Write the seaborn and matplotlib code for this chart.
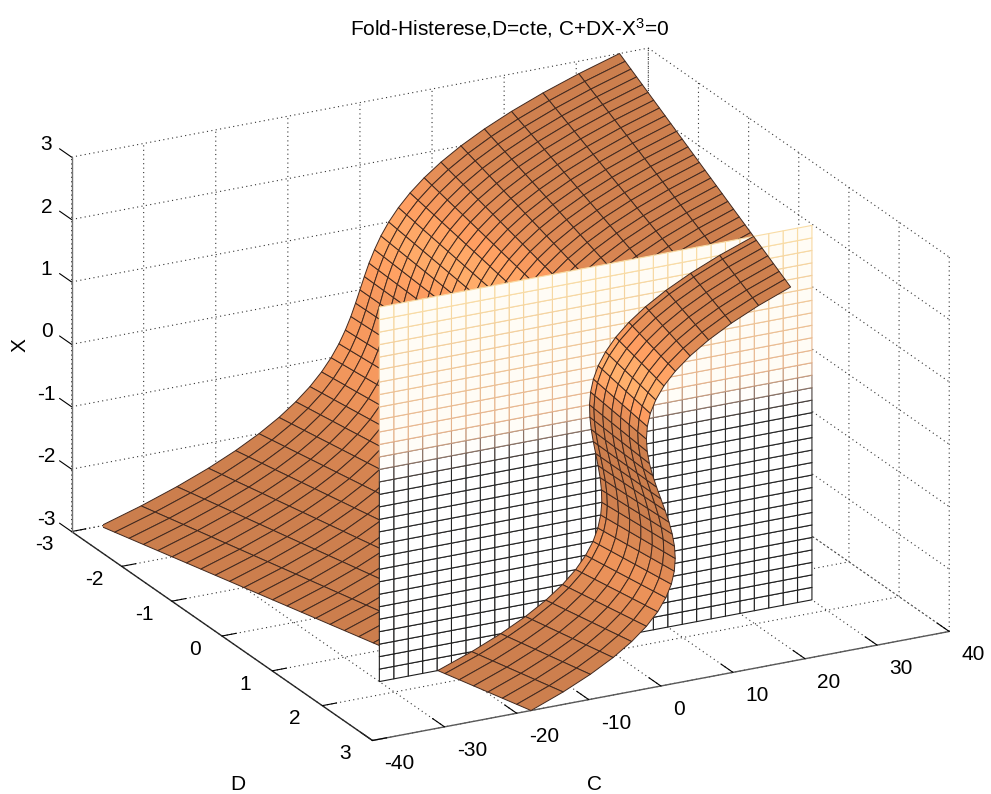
import numpy as np
import seaborn as sns
import matplotlib
matplotlib.use("Agg")
import matplotlib.pyplot as plt

# ---- data ----
TITLE = "Fold-Histerese,D=cte, C+DX-X$^{3}$=0"
D_GRID = [-3.0,-2.8,-2.6,-2.4,-2.2,-2.0,-1.8,-1.6,-1.4,-1.2,-1.0,-0.8,-0.6,-0.4,-0.2,0.0,
          0.2,0.4,0.6,0.8,1.0,1.2,1.4,1.6,1.8,2.0,2.2,2.4,2.6,2.8,3.0]
X_GRID = [-3.0,-2.8,-2.6,-2.4,-2.2,-2.0,-1.8,-1.6,-1.4,-1.2,-1.0,-0.8,-0.6,-0.4,-0.2,0.0,
          0.2,0.4,0.6,0.8,1.0,1.2,1.4,1.6,1.8,2.0,2.2,2.4,2.6,2.8,3.0]
# C on the surface for X = 0, 0.2 ... 3 (rows) and every D of D_GRID (columns)
C_X00 = [0]*31
C_X02 = [.61,.57,.53,.49,.45,.41,.37,.33,.29,.25,.21,.17,.13,.09,.05,.01,-.03,-.07,-.11,-.15,-.19,-.23,-.27,-.31,-.35,-.39,-.43,-.47,-.51,-.55,-.59]
C_X04 = [1.26,1.18,1.10,1.02,.94,.86,.78,.70,.62,.54,.46,.38,.30,.22,.14,.06,-.02,-.10,-.18,-.26,-.34,-.42,-.50,-.58,-.66,-.74,-.82,-.90,-.98,-1.06,-1.14]
C_X06 = [2.02,1.90,1.78,1.66,1.54,1.42,1.30,1.18,1.06,.94,.82,.70,.58,.46,.34,.22,.10,-.02,-.14,-.26,-.38,-.50,-.62,-.74,-.86,-.98,-1.10,-1.22,-1.34,-1.46,-1.58]
C_X08 = [2.91,2.75,2.59,2.43,2.27,2.11,1.95,1.79,1.63,1.47,1.31,1.15,.99,.83,.67,.51,.35,.19,.03,-.13,-.29,-.45,-.61,-.77,-.93,-1.09,-1.25,-1.41,-1.57,-1.73,-1.89]
C_X10 = [4.0,3.8,3.6,3.4,3.2,3.0,2.8,2.6,2.4,2.2,2.0,1.8,1.6,1.4,1.2,1.0,.8,.6,.4,.2,0,-.2,-.4,-.6,-.8,-1,-1.2,-1.4,-1.6,-1.8,-2.0]
C_X12 = [5.33,5.09,4.85,4.61,4.37,4.13,3.89,3.65,3.41,3.17,2.93,2.69,2.45,2.21,1.97,1.73,1.49,1.25,1.01,.77,.53,.29,.05,-.19,-.43,-.67,-.91,-1.15,-1.39,-1.63,-1.87]
C_X14 = [6.94,6.66,6.38,6.10,5.82,5.54,5.26,4.98,4.70,4.42,4.14,3.86,3.58,3.30,3.02,2.74,2.46,2.18,1.90,1.62,1.34,1.06,.78,.50,.22,-.06,-.34,-.62,-.90,-1.18,-1.46]
C_X16 = [8.90,8.58,8.26,7.94,7.62,7.30,6.98,6.66,6.34,6.02,5.70,5.38,5.06,4.74,4.42,4.10,3.78,3.46,3.14,2.82,2.50,2.18,1.86,1.54,1.22,.90,.58,.26,-.06,-.38,-.70]
C_X18 = [11.23,10.87,10.51,10.15,9.79,9.43,9.07,8.71,8.35,7.99,7.63,7.27,6.91,6.55,6.19,5.83,5.47,5.11,4.75,4.39,4.03,3.67,3.31,2.95,2.59,2.23,1.87,1.51,1.15,.79,.43]
C_X20 = [14,13.6,13.2,12.8,12.4,12,11.6,11.2,10.8,10.4,10,9.6,9.2,8.8,8.4,8,7.6,7.2,6.8,6.4,6,5.6,5.2,4.8,4.4,4,3.6,3.2,2.8,2.4,2]
C_X22 = [17.25,16.81,16.37,15.93,15.49,15.05,14.61,14.17,13.73,13.29,12.85,12.41,11.97,11.53,11.09,10.65,10.21,9.77,9.33,8.89,8.45,8.01,7.57,7.13,6.69,6.25,5.81,5.37,4.93,4.49,4.05]
C_X24 = [21.02,20.54,20.06,19.58,19.10,18.62,18.14,17.66,17.18,16.70,16.22,15.74,15.26,14.78,14.30,13.82,13.34,12.86,12.38,11.90,11.42,10.94,10.46,9.98,9.50,9.02,8.54,8.06,7.58,7.10,6.62]
C_X26 = [25.38,24.86,24.34,23.82,23.30,22.78,22.26,21.74,21.22,20.70,20.18,19.66,19.14,18.62,18.10,17.58,17.06,16.54,16.02,15.50,14.98,14.46,13.94,13.42,12.90,12.38,11.86,11.34,10.82,10.30,9.78]
C_X28 = [30.35,29.79,29.23,28.67,28.11,27.55,26.99,26.43,25.87,25.31,24.75,24.19,23.63,23.07,22.51,21.95,21.39,20.83,20.27,19.71,19.15,18.59,18.03,17.47,16.91,16.35,15.79,15.23,14.67,14.11,13.55]
C_X30 = [36,35.4,34.8,34.2,33.6,33,32.4,31.8,31.2,30.6,30,29.4,28.8,28.2,27.6,27,26.4,25.8,25.2,24.6,24,23.4,22.8,22.2,21.6,21,20.4,19.8,19.2,18.6,18]
# the wall at constant D, and where the surface crosses it (X = 0, 0.2 ... 3)
WALL_D = 1.7
C_AT_WALL = [0,-.33,-.62,-.80,-.85,-.70,-.31,.36,1.38,2.77,4.60,6.91,9.74,13.16,17.19,21.90]
WALL_C = [-30,-28,-26,-24,-22,-20,-18,-16,-14,-12,-10,-8,-6,-4,-2,0,2,4,6,8,10,12,14,16,18,20,22,24,26,28,30]
C_TICKS = [-40,-30,-20,-10,0,10,20,30,40]
D_TICKS = [-3,-2,-1,0,1,2,3]
X_TICKS = [-3,-2,-1,0,1,2,3]

sns.set_theme(style="white")
plt.rcParams["font.family"] = ["Liberation Sans", "DejaVu Sans"]
plt.rcParams["mathtext.default"] = "regular"
plt.rcParams["axes.unicode_minus"] = False

upper = np.array([C_X00,C_X02,C_X04,C_X06,C_X08,C_X10,C_X12,C_X14,C_X16,C_X18,C_X20,C_X22,C_X24,C_X26,C_X28,C_X30], float)
C_TABLE = np.vstack([-upper[:0:-1], upper])      # lower half mirrors the upper one
wall_line = np.array(C_AT_WALL, float)
C_WALL_LINE = np.concatenate([-wall_line[:0:-1], wall_line])
DD, XX = np.meshgrid(np.array(D_GRID), np.array(X_GRID))
BOX = (651, 651, 402)
AZ, EL = -117.55, 21.24

fig = plt.figure(figsize=(9.91, 7.94), dpi=100, facecolor="white")
ax = fig.add_axes([0.0042, -0.0101, 1.0, 1.0], projection="3d", computed_zorder=False, proj_type="ortho")
ax.set_xlim(-40, 40); ax.set_ylim(3, -3); ax.set_zlim(-3, 3)
ax.set_box_aspect(BOX, zoom=1.2274)
ax.view_init(elev=EL, azim=AZ)

# lit surface colours, worked out per cell in box units
u = C_TABLE / 80 * BOX[0]; v = DD / 6 * BOX[1]; w = XX / 6 * BOX[2]
P = np.stack([u, v, w], axis=-1)
d1 = P[1:, 1:] - P[:-1, :-1]
d2 = P[:-1, 1:] - P[1:, :-1]
n = np.cross(d1, d2)
n /= np.linalg.norm(n, axis=-1, keepdims=True)
n *= np.where(n[..., 0:1] > 0, -1, 1)
L = np.array([-.81, -.33, .48]); L /= np.linalg.norm(L)
dot = np.clip((n * L).sum(-1), 0, 1)
I = 0.81 + 0.46 * dot**12
base = np.array([250, 155, 95]) / 255
FACES = np.clip(I[..., None] * base, 0, 1)
FACES = np.dstack([FACES, np.ones(FACES.shape[:2])])

split = D_GRID.index(1.8)          # first grid column in front of the wall
line_x = np.array(X_GRID)
wall_col = C_WALL_LINE[:, None]
d_col = np.full((31, 1), WALL_D)
x_col = line_x[:, None]
edge = (.26, .16, .12, 1)
ax.plot_surface(np.hstack([C_TABLE[:, :split], wall_col]), np.hstack([DD[:, :split], d_col]),
                np.hstack([XX[:, :split], x_col]), facecolors=FACES[:, :split],
                rstride=1, cstride=1, shade=False, edgecolor=edge, linewidth=.7, zorder=1)

# wall
WC, WX = np.meshgrid(np.array(WALL_C, float), np.array(X_GRID))
WD = np.full_like(WC, WALL_D)
mid = (WX[:-1, :-1] + WX[1:, 1:]) / 2
stops = [-3, .2, .5, .8, 3]
edge_rgb = np.stack([np.interp(mid, stops, [.12, .16, .55, .9, .98]),
                     np.interp(mid, stops, [.12, .16, .45, .7, .87]),
                     np.interp(mid, stops, [.12, .16, .40, .55, .65]),
                     np.ones_like(mid)], -1)
face_rgb = np.stack([np.ones_like(mid), np.interp(mid, [.3, .8], [1, .99]), np.interp(mid, [.3, .8], [1, .96]), np.ones_like(mid)], -1)
wall = ax.plot_surface(WC, WD, WX, facecolors=face_rgb, rstride=1, cstride=1, shade=False,
                       linewidth=.8, zorder=2)
wall.set_edgecolor(edge_rgb.reshape(-1, 4))

ax.plot_surface(np.hstack([wall_col, C_TABLE[:, split:]]), np.hstack([d_col, DD[:, split:]]),
                np.hstack([x_col, XX[:, split:]]), facecolors=FACES[:, split-1:],
                rstride=1, cstride=1, shade=False, edgecolor=edge, linewidth=.7, zorder=3)

# axes styling
ax.set_xticks(C_TICKS); ax.set_yticks(D_TICKS); ax.set_zticks(X_TICKS)
ax.zaxis._get_tickdir = lambda pos: 1          # X ticks run along the D direction
AX_COL = {"x": (.35, .35, .35, 1), "y": (.15, .15, .15, 1), "z": (.45, .45, .45, 1)}
TICK_OUT = {"x": .5, "y": .31, "z": .5}
for a, key in ((ax.xaxis, "x"), (ax.yaxis, "y"), (ax.zaxis, "z")):
    a.set_pane_color((1, 1, 1, 0))
    a.pane.set_edgecolor((1, 1, 1, 0))
    a._axinfo["grid"].update(color=(.2, .2, .2, 1), linewidth=.8, linestyle=(0, (1, 3)))
    a._axinfo["axisline"]["color"] = AX_COL[key]
    a._axinfo["tick"].update(inward_factor=0, outward_factor=TICK_OUT[key], color=(.3, .3, .3, 1),
                             linewidth={True: .8, False: .5})
    a.line.set_color(AX_COL[key])
    a.line.set_linewidth(1.0)
ax.grid(True)
ax.tick_params(axis="both", labelsize=15, colors="black")
ax.tick_params(axis="x", pad=4); ax.tick_params(axis="y", pad=6); ax.tick_params(axis="z", pad=0.5)
for t in ax.get_xticklabels():
    t.set_ha("left"); t.set_va("center")
for t in ax.get_yticklabels():
    t.set_va("bottom")
for t in ax.get_zticklabels():
    t.set_va("bottom")

def px(x, y):
    return x / 991, 1 - y / 794
fig.text(*px(510, 28), TITLE, ha="center", va="center", fontsize=15, color="black")
fig.text(*px(238, 785), "D", ha="center", va="center", fontsize=15, color="black")
fig.text(*px(595, 785), "C", ha="center", va="center", fontsize=15, color="black")
fig.text(*px(20, 345), "X", ha="center", va="center", fontsize=15, rotation=90, color="black")
fig.savefig("out.png", dpi=100)
